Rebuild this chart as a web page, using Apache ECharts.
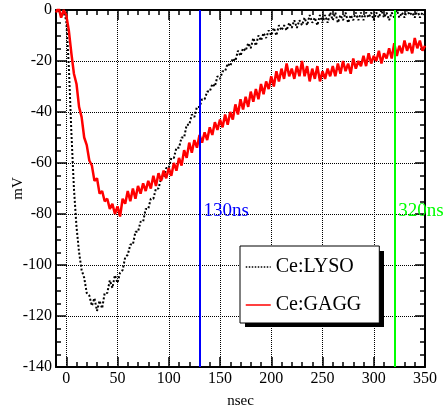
<!DOCTYPE html>
<html lang="en">
<head>
    <meta charset="utf-8">
    <title>LYSO vs GAGG pulse</title>
    <script src="https://cdn.jsdelivr.net/npm/echarts@6/dist/echarts.min.js"></script>
    <style>
        html, body { margin: 0; padding: 0; background: #fff; }
        #main { width: 448px; height: 411px; }
    </style>
</head>
<body>
<div id="main"></div>
<script type="text/javascript">
    // sample times (nsec)
    var times = [
        -10, -7.5, -5, -2.5, 0, 2.5, 5, 7.5, 10, 12.5, 15, 17.5,
        20, 22.5, 25, 27.5, 30, 32.5, 35, 37.5, 40, 42.5, 45, 47.5,
        50, 52.5, 55, 57.5, 60, 62.5, 65, 67.5, 70, 72.5, 75, 77.5,
        80, 82.5, 85, 87.5, 90, 92.5, 95, 97.5, 100, 102.5, 105, 107.5,
        110, 112.5, 115, 117.5, 120, 122.5, 125, 127.5, 130, 132.5, 135, 137.5,
        140, 142.5, 145, 147.5, 150, 152.5, 155, 157.5, 160, 162.5, 165, 167.5,
        170, 172.5, 175, 177.5, 180, 182.5, 185, 187.5, 190, 192.5, 195, 197.5,
        200, 202.5, 205, 207.5, 210, 212.5, 215, 217.5, 220, 222.5, 225, 227.5,
        230, 232.5, 235, 237.5, 240, 242.5, 245, 247.5, 250, 252.5, 255, 257.5,
        260, 262.5, 265, 267.5, 270, 272.5, 275, 277.5, 280, 282.5, 285, 287.5,
        290, 292.5, 295, 297.5, 300, 302.5, 305, 307.5, 310, 312.5, 315, 317.5,
        320, 322.5, 325, 327.5, 330, 332.5, 335, 337.5, 340, 342.5, 345, 347.5,
        350
    ];
    // Ce:LYSO pulse (mV)
    var lyso = [
        0, -1, 1, -1, -4, -22, -48, -70, -85, -95, -102, -105,
        -111, -112, -116, -113, -118, -114, -117, -111, -111, -106, -109, -104,
        -107, -103, -102, -97, -96, -92, -92, -87, -87, -83, -83, -78,
        -78, -74, -74, -70, -70, -66, -66, -62, -62, -58, -58, -54,
        -54, -50, -50, -45, -45, -41, -42, -38, -38, -35, -35, -32,
        -32, -29, -30, -26, -27, -24, -24, -21, -22, -19, -20, -16,
        -18, -15, -16, -13, -15, -11, -14, -10, -12, -9, -11, -8,
        -10, -7, -10, -6, -8, -6, -8, -5, -7, -4, -7, -4,
        -6, -3, -6, -2, -5, -3, -6, -2, -5, -2, -5, -1,
        -4, -1, -5, -2, -4, -1, -5, -2, -4, -1, -4, -1,
        -4, -1, -3, -1, -4, -1, -3, 0, -3, -1, -4, -1,
        -3, 0, -3, -1, -3, 0, -2, -1, -3, 0, -3, -1,
        -2
    ];
    // Ce:GAGG pulse (mV)
    var gagg = [
        -1, 1, -3, 0, -2, -8, -17, -25, -29, -38, -42, -50,
        -53, -59, -61, -67, -66, -72, -71, -75, -74, -78, -76, -80,
        -77, -81, -74, -76, -71, -75, -70, -74, -69, -72, -68, -71,
        -67, -70, -65, -69, -64, -67, -63, -66, -62, -65, -60, -63,
        -58, -61, -55, -58, -52, -56, -51, -54, -49, -52, -48, -51,
        -46, -49, -44, -47, -43, -46, -41, -45, -40, -43, -37, -41,
        -35, -39, -34, -38, -32, -36, -31, -35, -29, -33, -28, -31,
        -26, -30, -24, -28, -23, -27, -21, -26, -23, -27, -22, -26,
        -20, -26, -22, -28, -23, -27, -22, -28, -24, -27, -23, -26,
        -22, -26, -21, -25, -20, -24, -21, -25, -19, -23, -20, -22,
        -18, -22, -17, -21, -18, -20, -16, -21, -17, -19, -15, -19,
        -13, -18, -14, -17, -12, -16, -13, -17, -11, -15, -12, -16,
        -14
    ];
    var xMajor = [0, 50, 100, 150, 200, 250, 300, 350];
    var cutTimes = [130, 320];
    var cutNames = ['130ns', '320ns'];
    var cutColors = ['#0000ff', '#00ff00'];

    function pairs(ys) {
        return times.map(function (t, i) { return [t, ys[i]]; });
    }

    var font = 'Liberation Serif';
    var black = {color: '#000', width: 1.5};

    function xAxisOf(pos, major) {
        return {
            type: 'value', position: pos, min: -10, max: 350,
            interval: major ? undefined : 10,
            axisLine: {show: !major, onZero: false, lineStyle: {color: '#000', width: 2}},
            axisTick: major
                ? {show: true, inside: true, length: 10, customValues: xMajor, lineStyle: black}
                : {show: true, inside: true, length: 5, lineStyle: black},
            axisLabel: major ? {show: false, customValues: xMajor} : {show: false},
            splitLine: {show: false}
        };
    }

    var xs = [xAxisOf('bottom', false), xAxisOf('bottom', true), xAxisOf('top', false), xAxisOf('top', true)];
    // bottom labels + name
    xs[0].axisLabel = {
        show: true, color: '#000', fontFamily: font, fontSize: 16, margin: 4,
        formatter: function (v) { return v % 50 === 0 ? String(v) : ''; }
    };
    xs[0].name = 'nsec';
    xs[0].nameLocation = 'middle';
    xs[0].nameGap = 27;
    xs[0].nameMoveOverlap = false;
    xs[0].nameTextStyle = {color: '#000', fontFamily: font, fontSize: 15};
    xs[1].splitLine = {show: true, lineStyle: {type: 'dotted', color: '#000', width: 1}};

    function yAxisOf(pos) {
        return {
            type: 'value', position: pos, min: -140, max: 0, interval: 20,
            axisLine: {show: true, onZero: false, lineStyle: {color: '#000', width: 2}},
            axisTick: {show: true, inside: true, length: 10, lineStyle: black},
            minorTick: {show: true, splitNumber: 4, length: 5, lineStyle: black},
            axisLabel: {show: pos === 'left', color: '#000', fontFamily: font, fontSize: 16, margin: 4},
            splitLine: {show: pos === 'left', lineStyle: {type: 'dotted', color: '#000', width: 1}}
        };
    }
    var ys = [yAxisOf('left'), yAxisOf('right')];
    ys[0].name = 'mV';
    ys[0].nameLocation = 'middle';
    ys[0].nameGap = 30;
    ys[0].nameMoveOverlap = false;
    ys[0].nameTextStyle = {color: '#000', fontFamily: font, fontSize: 15};

    var myChart = echarts.init(document.getElementById('main'));
    var option = {
        animation: false,
        backgroundColor: '#fff',
        textStyle: {fontFamily: font},
        grid: {left: 56, right: 23, top: 10, bottom: 44, outerBoundsMode: 'none', containLabel: false},
        xAxis: xs,
        yAxis: ys,
        // drop shadow behind the legend box
        graphic: [{
            type: 'rect', z: 1,
            shape: {x: 245, y: 251, width: 139, height: 76},
            style: {fill: '#000'}
        }],
        legend: {
            orient: 'vertical', left: 240, top: 246, z: 10,
            backgroundColor: '#fff', borderColor: '#000', borderWidth: 1,
            padding: [11, 18, 8, 5], itemGap: 18, itemWidth: 25, itemHeight: 14,
            itemStyle: {color: 'rgba(0,0,0,0)', borderWidth: 0},
            lineStyle: {width: 1.5},
            textStyle: {color: '#000', fontFamily: font, fontSize: 20},
            data: ['Ce:LYSO', 'Ce:GAGG']
        },
        series: [
            {
                name: 'Ce:LYSO', type: 'line', symbol: 'none',
                data: pairs(lyso),
                lineStyle: {color: '#000', width: 2, type: 'dotted'},
                itemStyle: {color: '#000'}
            },
            {
                name: 'Ce:GAGG', type: 'line', symbol: 'none',
                data: pairs(gagg),
                lineStyle: {color: '#ff0000', width: 2.5},
                itemStyle: {color: '#ff0000'},
                markLine: {
                    silent: true, symbol: 'none', label: {show: false},
                    data: cutTimes.map(function (t, i) {
                        return {xAxis: t, lineStyle: {color: cutColors[i], width: 2, type: 'solid'}};
                    })
                },
                markPoint: {
                    silent: true, symbol: 'circle', symbolSize: 0,
                    data: cutTimes.map(function (t, i) {
                        return {
                            coord: [t, -79], value: cutNames[i],
                            label: {
                                show: true, position: 'right', distance: 4,
                                formatter: cutNames[i], color: cutColors[i],
                                fontFamily: font, fontSize: 19
                            }
                        };
                    })
                }
            }
        ]
    };
    myChart.setOption(option);
</script>
</body>
</html>
